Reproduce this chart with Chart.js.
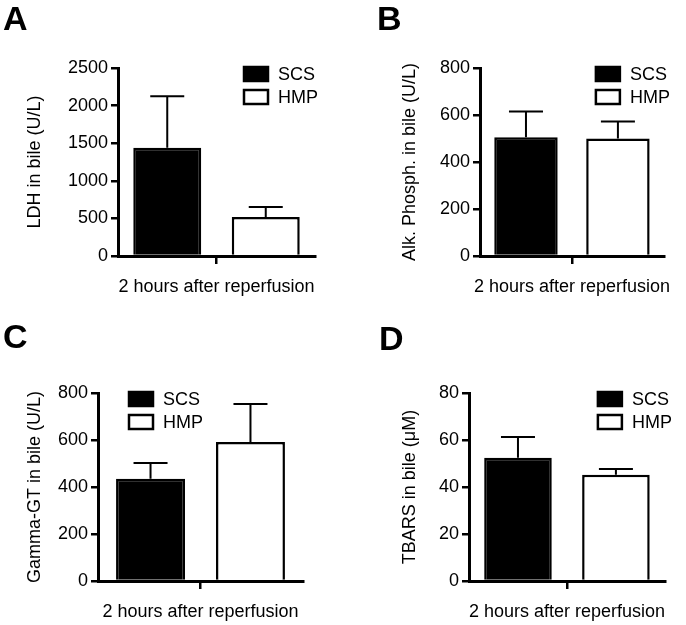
<!DOCTYPE html>
<html lang="en">
<head>
<meta charset="UTF-8">
<title>Bile markers after reperfusion</title>
<script src="https://cdn.jsdelivr.net/npm/chart.js"></script>
<style>
  body { margin: 0; background: #fff; }
  #wrap { position: relative; width: 686px; height: 625px; }
  .panel { position: absolute; width: 343px; height: 312px; }
  .letter {
    position: absolute;
    font: bold 34px 'Liberation Sans', Arial, sans-serif;
    line-height: 1;
    color: #000;
  }
</style>
</head>
<body>
<div id="wrap">
  <div class="panel" style="left:0;top:0"><canvas id="chartA"></canvas></div>
  <div class="panel" style="left:343px;top:0"><canvas id="chartB"></canvas></div>
  <div class="panel" style="left:0;top:312px"><canvas id="chartC"></canvas></div>
  <div class="panel" style="left:343px;top:312px"><canvas id="chartD"></canvas></div>
  <div class="letter" style="left:3px;top:1px">A</div>
  <div class="letter" style="left:377px;top:1px">B</div>
  <div class="letter" style="left:3px;top:319px">C</div>
  <div class="letter" style="left:379px;top:321px">D</div>
</div>

<script>
// data
const categories = ['2 hours after reperfusion'];
const seriesNames = ['SCS', 'HMP'];

const ldhMean = [1440, 520];
const ldhErr = [685, 130];
const ldhTicks = [0, 2500, 500];

const alkMean = [505, 500];
const alkErr = [110, 72];
const alkTicks = [0, 800, 200];

const ggtMean = [435, 592];
const ggtErr = [67, 161];
const ggtTicks = [0, 800, 200];

const tbarsMean = [52.5, 45.2];
const tbarsErr = [8.8, 2.5];
const tbarsTicks = [0, 80, 20];

Chart.defaults.font.family = "'Liberation Sans', Arial, sans-serif";
Chart.defaults.font.size = 18;
Chart.defaults.color = '#000';

// upper error bars only (like the original figure)
const errorBars = {
    id: 'errorBars',
    afterDatasetsDraw(chart) {
        const ctx = chart.ctx;
        const yScale = chart.scales.y;
        ctx.save();
        ctx.strokeStyle = '#000';
        ctx.lineWidth = 2;
        chart.data.datasets.forEach((ds, i) => {
            chart.getDatasetMeta(i).data.forEach((bar, j) => {
                const top = yScale.getPixelForValue(ds.data[j] + ds.errors[j]);
                ctx.beginPath();
                ctx.moveTo(bar.x, bar.y);
                ctx.lineTo(bar.x, top);
                ctx.moveTo(bar.x - 17, top);
                ctx.lineTo(bar.x + 17, top);
                ctx.stroke();
            });
        });
        ctx.restore();
    }
};

// small legend inside the plot area
const boxLegend = {
    id: 'boxLegend',
    afterDraw(chart, args, opts) {
        const ctx = chart.ctx;
        const area = chart.chartArea;
        const x0 = opts.side === 'left' ? area.left + opts.offset : area.right - opts.offset;
        ctx.save();
        ctx.font = "18px 'Liberation Sans', Arial, sans-serif";
        ctx.textBaseline = 'middle';
        chart.data.datasets.forEach((ds, i) => {
            const y0 = area.top - 1 + i * 23;
            ctx.fillStyle = ds.backgroundColor;
            ctx.fillRect(x0, y0, 24, 14);
            ctx.strokeStyle = '#000';
            ctx.lineWidth = 2.5;
            ctx.strokeRect(x0, y0, 24, 14);
            ctx.fillStyle = '#000';
            ctx.fillText(ds.label, x0 + 34, y0 + 8);
        });
        ctx.restore();
    }
};

function makePanel(id, means, errs, ticks, yTitle, p) {
    const ctx = document.getElementById(id).getContext('2d');
    return new Chart(ctx, {
        type: 'bar',
        data: {
            labels: categories,
            datasets: [
                {
                    label: seriesNames[0],
                    data: [means[0]],
                    errors: [errs[0]],
                    backgroundColor: '#000',
                    borderColor: '#000',
                    borderWidth: 2.5
                },
                {
                    label: seriesNames[1],
                    data: [means[1]],
                    errors: [errs[1]],
                    backgroundColor: '#fff',
                    borderColor: '#000',
                    borderWidth: 2.5
                }
            ]
        },
        options: {
            responsive: true,
            maintainAspectRatio: false,
            animation: false,
            categoryPercentage: p.catPct,
            barPercentage: 0.69,
            layout: { padding: { left: 0, top: p.top, right: p.right, bottom: 0 } },
            plugins: {
                legend: { display: false },
                tooltip: { enabled: false },
                boxLegend: { side: p.legendSide, offset: p.legendOffset }
            },
            scales: {
                x: {
                    z: 1,
                    grid: {
                        offset: false,
                        drawOnChartArea: false,
                        drawTicks: true,
                        tickLength: 8,
                        color: '#000',
                        lineWidth: 2.5
                    },
                    border: { color: '#000', width: 3 },
                    ticks: { padding: 12, maxRotation: 0 },
                    afterFit(scale) { scale.height = p.xHeight; }
                },
                y: {
                    z: 1,
                    min: ticks[0],
                    max: ticks[1],
                    ticks: { stepSize: ticks[2], padding: 3, callback: v => String(v) },
                    grid: {
                        drawOnChartArea: false,
                        drawTicks: true,
                        tickLength: 7,
                        color: '#000',
                        lineWidth: 2.5
                    },
                    border: { color: '#000', width: 3 },
                    title: {
                        display: true,
                        text: yTitle,
                        font: { size: 18 },
                        padding: { top: p.titlePad, bottom: 0 }
                    },
                    afterFit(scale) { scale.width = p.yWidth; }
                }
            }
        },
        plugins: [errorBars, boxLegend]
    });
}

makePanel('chartA', ldhMean, ldhErr, ldhTicks, 'LDH in bile (U/L)',
    { yWidth: 118, top: 68, right: 28, xHeight: 56, catPct: 1.0, titlePad: 24, legendSide: 'right', legendOffset: 71 });
makePanel('chartB', alkMean, alkErr, alkTicks, 'Alk. Phosph. in bile (U/L)',
    { yWidth: 137, top: 68, right: 8, xHeight: 56, catPct: 1.0, titlePad: 56, legendSide: 'right', legendOffset: 68 });
makePanel('chartC', ggtMean, ggtErr, ggtTicks, 'Gamma-GT in bile (U/L)',
    { yWidth: 98, top: 81, right: 40, xHeight: 43, catPct: 0.975, titlePad: 24, legendSide: 'left', legendOffset: 31 });
makePanel('chartD', tbarsMean, tbarsErr, tbarsTicks, 'TBARS in bile (\u03bcM)',
    { yWidth: 126, top: 81, right: 18, xHeight: 43, catPct: 1.0, titlePad: 56, legendSide: 'right', legendOffset: 67 });
</script>
</body>
</html>
